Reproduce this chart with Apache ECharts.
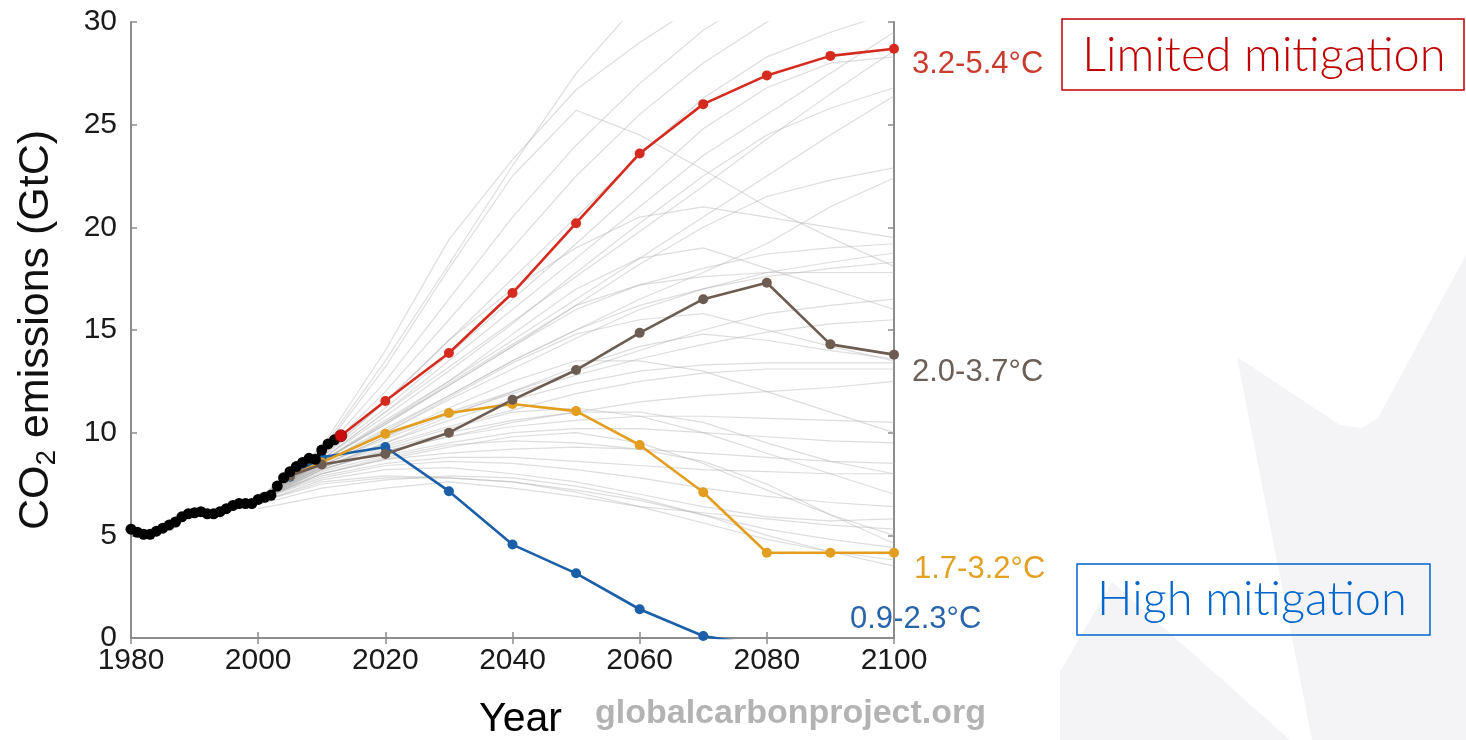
<!DOCTYPE html>
<html>
<head>
<meta charset="utf-8">
<script src="https://cdn.jsdelivr.net/npm/echarts@6/dist/echarts.min.js"></script>
<style>
html,body{margin:0;padding:0;background:#fff;}
#chart{width:1466px;height:740px;}
</style>
</head>
<body>
<div id="chart"></div>
<script>
// ---------- DATA ----------
const xTicks = [1980, 2000, 2020, 2040, 2060, 2080, 2100];
const yTicks = [0, 5, 10, 15, 20, 25, 30];

const histYears = [1980,1981,1982,1983,1984,1985,1986,1987,1988,1989,1990,1991,1992,1993,1994,1995,1996,1997,1998,1999,2000,2001,2002,2003,2004,2005,2006,2007,2008,2009,2010,2011,2012,2013];
const histValues = [5.3,5.15,5.05,5.05,5.2,5.35,5.5,5.65,5.9,6.05,6.1,6.15,6.05,6.05,6.15,6.3,6.45,6.55,6.55,6.55,6.75,6.85,6.95,7.4,7.8,8.1,8.35,8.55,8.75,8.7,9.15,9.45,9.65,9.85];

const redYears = [2013,2020,2030,2040,2050,2060,2070,2080,2090,2100];
const redValues = [9.85,11.54,13.88,16.8,20.2,23.6,26.0,27.4,28.35,28.7];

const brownYears = [2005,2010,2020,2030,2040,2050,2060,2070,2080,2090,2100];
const brownValues = [7.9,8.45,8.96,10.0,11.6,13.05,14.86,16.5,17.3,14.3,13.8];

const orangeYears = [2005,2010,2020,2030,2040,2050,2060,2070,2080,2090,2100];
const orangeValues = [7.9,8.55,9.95,10.96,11.4,11.05,9.4,7.1,4.15,4.15,4.15];

const blueYears = [2005,2010,2020,2030,2040,2050,2060,2070,2080,2090,2100];
const blueValues = [7.85,8.8,9.3,7.15,4.55,3.15,1.4,0.1,-0.4,-1.0,-1.5];

const rangeLabels = ['3.2-5.4°C','2.0-3.7°C','1.7-3.2°C','0.9-2.3°C'];
const boxLabels = ['Limited mitigation','High mitigation'];

// background scenario runs (grey)
const runYears = [2000,2010,2020,2030,2040,2050,2060,2070,2080,2090,2100];
const backgroundRuns = [
 [6.8,9.3,14.0,19.4,23.3,26.7,29.0,31.0,33.0,34.0,35.0],
 [6.8,9.1,13.2,18.0,22.5,25.7,24.5,22.8,21.0,19.5,18.1],
 [6.8,9.2,13.5,18.2,23.0,27.5,31.0,33.0,34.0,35.0,36.0],
 [6.8,9.0,12.5,16.5,20.5,24.0,27.0,29.6,31.5,33.0,34.0],
 [6.8,8.9,12.0,15.5,19.0,22.5,25.5,28.0,30.0,31.5,32.5],
 [6.8,8.9,11.5,14.5,17.5,20.5,23.5,26.3,28.3,29.5,30.5],
 [6.8,8.8,11.2,13.8,16.5,19.2,22.0,24.8,26.8,28.0,28.3],
 [6.8,8.7,11.0,13.2,15.4,17.6,19.8,22.0,24.3,26.5,28.6],
 [6.8,8.7,10.8,13.0,15.3,17.8,20.2,22.5,24.5,25.8,26.8],
 [6.8,8.6,10.6,12.5,14.5,16.5,18.5,20.5,22.5,24.5,26.4],
 [6.8,8.6,10.5,12.3,14.2,16.2,18.2,20.0,21.5,22.3,22.9],
 [6.8,8.5,10.2,11.8,13.5,15.0,16.5,17.8,19.2,21.0,22.4],
 [6.8,8.6,10.4,12.3,14.2,16.0,17.2,18.0,18.7,19.0,19.2],
 [6.8,8.5,10.0,11.6,13.1,14.6,16.0,17.0,17.8,18.3,18.75],
 [6.8,8.6,10.4,12.4,14.3,16.2,17.2,17.6,17.8,17.8,17.8],
 [6.8,8.5,10.1,11.8,13.5,15.0,16.2,17.0,17.6,18.0,18.3],
 [6.8,8.4,9.8,11.0,12.0,13.0,14.0,15.0,15.8,16.2,16.5],
 [6.8,8.4,9.7,10.9,11.9,12.8,13.6,14.3,14.9,15.3,15.5],
 [6.8,8.3,9.5,10.6,11.6,12.4,13.0,13.3,13.4,13.4,13.4],
 [6.8,8.3,9.4,10.3,11.1,11.9,12.5,12.9,13.1,13.1,13.1],
 [6.8,8.5,10.0,11.7,13.4,14.8,15.5,15.8,15.0,14.2,13.5],
 [6.7,8.2,9.2,10.0,10.6,11.0,11.5,11.8,12.0,12.2,12.5],
 [6.7,8.2,9.1,9.8,10.3,10.6,10.8,10.8,10.7,10.6,10.5],
 [6.7,8.4,9.8,11.2,12.5,13.5,13.5,13.0,12.0,11.0,10.0],
 [6.7,8.1,8.9,9.5,10.0,10.2,10.2,10.0,9.8,9.6,9.5],
 [6.7,8.0,8.7,9.0,9.2,9.3,9.2,9.0,8.8,8.6,8.5],
 [6.7,8.3,9.3,10.2,11.0,11.2,10.8,10.0,9.0,8.0,7.0],
 [6.7,8.2,9.1,9.8,10.5,11.0,11.0,10.5,9.5,8.6,8.0],
 [6.7,7.9,8.5,8.8,8.8,8.6,8.4,8.2,8.1,8.0,8.0],
 [6.7,8.0,8.7,9.3,9.8,10.0,9.5,8.5,7.2,6.0,5.0],
 [6.7,8.0,8.8,9.4,9.6,9.5,9.2,8.6,7.5,6.0,4.6],
 [6.7,7.8,8.4,8.6,8.5,8.2,7.8,7.3,6.9,6.6,6.4],
 [6.6,7.7,8.2,8.3,8.0,7.6,7.0,6.4,5.9,5.7,5.8],
 [6.6,7.6,7.9,7.8,7.6,7.2,6.7,6.0,5.3,4.8,4.4],
 [6.6,7.5,7.8,7.8,7.6,7.1,6.4,5.6,4.8,4.2,3.8],
 [6.5,7.3,7.7,7.9,7.8,7.4,6.8,6.0,5.0,4.2,3.5],
 [6.3,6.9,7.3,7.6,7.3,6.9,6.4,6.1,5.8,5.5,5.3],
 [6.8,8.8,11.5,14.5,17.0,19.0,20.5,21.0,20.5,20.0,19.5],
 [6.8,8.6,10.5,12.5,14.8,17.0,18.5,19.0,18.0,17.0,16.0],
 [6.7,8.3,9.5,10.8,12.0,13.2,14.2,14.8,14.5,14.0,13.6],
 [6.8,8.7,11.0,13.5,16.0,18.5,21.0,23.5,25.5,27.5,29.5]
];

// ---------- CHART ----------
const FONT = '"Liberation Sans", Arial, sans-serif';
const BOXFONT = 'Lato, "Liberation Sans", sans-serif';
const zip = (xs, ys) => xs.map((x, i) => [x, ys[i]]);

const chart = echarts.init(document.getElementById('chart'), null, {renderer: 'canvas'});

const series = [];
backgroundRuns.forEach((run, i) => {
  series.push({
    type: 'line', name: 'run' + i, data: zip(runYears, run),
    showSymbol: false, symbol: 'none', silent: true, z: 1,
    lineStyle: {color: 'rgba(175,175,175,0.42)', width: 1.2},
    clip: true, animation: false
  });
});

function scen(name, xs, ys, color, z) {
  return {
    type: 'line', name, data: zip(xs, ys), z,
    symbol: 'circle', symbolSize: 10, showSymbol: true,
    itemStyle: {color}, lineStyle: {color, width: 2.6},
    clip: true, animation: false
  };
}
series.push(scen('blue', blueYears, blueValues, '#1b5fa9', 3));
series.push(scen('orange', orangeYears, orangeValues, '#e39e1f', 3));
series.push(scen('brown', brownYears, brownValues, '#6c5c51', 3));
series.push(scen('red', redYears, redValues, '#d52b1e', 4));
series.push({
  type: 'line', name: 'history', data: zip(histYears, histValues), z: 5,
  symbol: 'circle', symbolSize: 11, showSymbol: true,
  itemStyle: {color: '#000'}, lineStyle: {color: '#000', width: 4},
  animation: false
});
series.push({
  type: 'scatter', name: 'now', data: [[redYears[0], redValues[0]]], z: 6,
  symbolSize: 12, itemStyle: {color: '#ff1010', borderColor: '#700', borderWidth: 1},
  animation: false
});

const axisGrey = '#8c8c8c';
const option = {
  backgroundColor: '#ffffff',
  animation: false,
  grid: {left: 131, right: 572, top: 22, bottom: 102, containLabel: false, outerBoundsMode: 'none'},
  xAxis: [{
    type: 'value', min: xTicks[0], max: xTicks[xTicks.length-1], interval: 20,
    name: 'Year', nameLocation: 'middle', nameGap: 61,
    nameTextStyle: {fontFamily: FONT, fontSize: 41, color: '#000', padding: [0, 0, 0, 16]},
    axisLine: {show: true, lineStyle: {color: axisGrey, width: 2}},
    axisTick: {show: true, inside: true, length: 6, lineStyle: {color: axisGrey, width: 1.5}},
    axisLabel: {show: true, fontFamily: FONT, fontSize: 30, color: '#1a1a1a', margin: 8,
                formatter: v => String(v)},
    splitLine: {show: false}
  }, {
    type: 'value', position: 'top', min: xTicks[0], max: xTicks[xTicks.length-1], interval: 20,
    axisLine: {show: true, lineStyle: {color: axisGrey, width: 2}},
    axisTick: {show: true, inside: true, length: 6, lineStyle: {color: axisGrey, width: 1.5}},
    axisLabel: {show: false}, splitLine: {show: false}
  }],
  yAxis: [{
    type: 'value', min: yTicks[0], max: yTicks[yTicks.length-1], interval: 5,
    name: '{a|CO}{s|2}{a| emissions (GtC)}', nameLocation: 'middle', nameGap: 70, nameRotate: 90,
    nameTextStyle: {
      rich: {
        a: {fontFamily: FONT, fontSize: 43, color: '#111'},
        s: {fontFamily: FONT, fontSize: 28, color: '#111', padding: [22, 0, 0, 0]}
      }
    },
    axisLine: {show: true, lineStyle: {color: axisGrey, width: 2}},
    axisTick: {show: true, inside: true, length: 6, lineStyle: {color: axisGrey, width: 1.5}},
    axisLabel: {show: true, fontFamily: FONT, fontSize: 30, color: '#1a1a1a', margin: 14},
    splitLine: {show: false}
  }, {
    type: 'value', position: 'right', min: yTicks[0], max: yTicks[yTicks.length-1], interval: 5,
    axisLine: {show: true, lineStyle: {color: axisGrey, width: 2}},
    axisTick: {show: true, inside: true, length: 6, lineStyle: {color: axisGrey, width: 1.5}},
    axisLabel: {show: false}, splitLine: {show: false}
  }],
  series,
  graphic: [
    // faint background shapes at the right
    {type: 'polygon', z: -10, silent: true,
     shape: {points: [[1466,255],[1378,418],[1362,428],[1340,425],[1237,357],[1312,740],[1466,740]]},
     style: {fill: '#f4f4f6'}},
    {type: 'polygon', z: -10, silent: true,
     shape: {points: [[1060,740],[1060,672],[1112,582],[1290,740]]},
     style: {fill: '#f4f4f6'}},
    // temperature range labels
    {type: 'text', left: 912, top: 49, style: {text: rangeLabels[0], font: '31px ' + FONT, fill: '#c93a2f'}},
    {type: 'text', left: 912, top: 357, style: {text: rangeLabels[1], font: '31px ' + FONT, fill: '#6b6058'}},
    {type: 'text', left: 914, top: 554, style: {text: rangeLabels[2], font: '31px ' + FONT, fill: '#e2a123'}},
    {type: 'text', left: 850, top: 604, style: {text: rangeLabels[3], font: '31px ' + FONT, fill: '#2a64aa'}},
    // boxes
    {type: 'rect', shape: {x: 1062, y: 19, width: 402, height: 71},
     style: {fill: '#fff', stroke: '#c00000', lineWidth: 1.5}},
    {type: 'text', x: 1264, y: 56, style: {text: boxLabels[0], font: '300 47px ' + BOXFONT, fill: '#c00000', align: 'center', verticalAlign: 'middle'}},
    {type: 'rect', shape: {x: 1077, y: 564, width: 353, height: 71},
     style: {fill: 'rgba(255,255,255,0)', stroke: '#0066cc', lineWidth: 1.5}},
    {type: 'text', x: 1252, y: 600, style: {text: boxLabels[1], font: '300 47px ' + BOXFONT, fill: '#0066cc', align: 'center', verticalAlign: 'middle'}},
    // watermark
    {type: 'text', left: 595, top: 697, style: {text: 'globalcarbonproject.org', font: 'bold 34px ' + FONT, fill: '#b3b3b3'}}
  ]
};
chart.setOption(option);
</script>
</body>
</html>
